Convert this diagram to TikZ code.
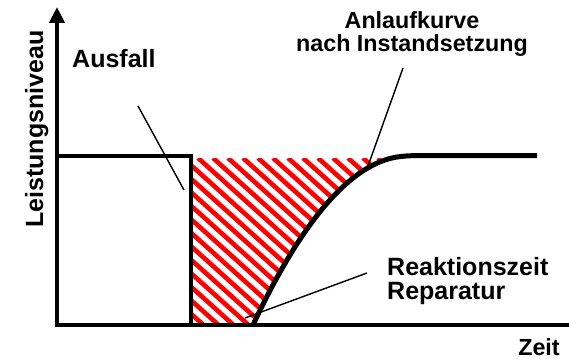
\documentclass[tikz,border=0pt]{standalone}
\usepackage{fontspec}
\setmainfont{Liberation Sans}
\usetikzlibrary{arrows.meta}

\begin{document}
\begin{tikzpicture}[x=1pt, y=-1pt,
  axis/.style={line width=4.8pt},
  level/.style={line width=4.6pt},
  curve/.style={line width=5pt},
  callout/.style={line width=1.4pt},
  hatch/.style={red, line width=4.6pt},
  lbl/.style={font=\bfseries\fontsize{25}{24}\selectfont, inner sep=0pt},
  lblsmall/.style={font=\bfseries\fontsize{23.3}{23.5}\selectfont, inner sep=0pt}]
  \useasboundingbox (0,0) rectangle (569,361);
  % hatched loss area
  \begin{scope}
    \clip (191,158) -- (380,158) -- (385,160) .. controls (340,175) and (295,235) .. (253,325) -- (191,325) -- cycle;
    \foreach \k in {-15,...,13}
      \draw[hatch] ({198+15*\k},158) -- ++(42:400);
  \end{scope}
  % axes
  \draw[axis, {Triangle[length=16pt,width=15pt]}-] (57,7) -- (57,325) -- (569,325);
  % level before failure
  \draw[level] (57,156) -- (191,156) -- (191,325);
  % recovery curve
  \draw[curve] (253,325) .. controls (295,235) and (340,175) .. (385,160)
    .. controls (395,156.5) and (405,155.5) .. (425,155.5) -- (537,155.5);
  % labels
  \node[lbl, anchor=base, rotate=90] (niveau) at (43,129) {Leistungsniveau};
  \node[lbl, anchor=base west] (ausfall) at (72,67) {Ausfall};
  \node[lblsmall, align=center] (anlauf) at (412,34) {Anlaufkurve\\nach Instandsetzung};
  \node[lbl, align=left, anchor=north west] (reaktion) at (387,257) {Reaktionszeit\\Reparatur};
  \node[lblsmall, anchor=base] (zeit) at (539,355) {Zeit};
  % callouts
  \coordinate (ausfallA) at (138,106);
  \coordinate (ausfallB) at (184,190);
  \coordinate (anlaufA) at (403,68);
  \coordinate (anlaufB) at (368,166);
  \coordinate (reaktionA) at (367,273);
  \coordinate (reaktionB) at (245,318);
  \draw[callout] (ausfallA) -- (ausfallB);
  \draw[callout] (anlaufA) -- (anlaufB);
  \draw[callout] (reaktionA) -- (reaktionB);
\end{tikzpicture}
\end{document}
